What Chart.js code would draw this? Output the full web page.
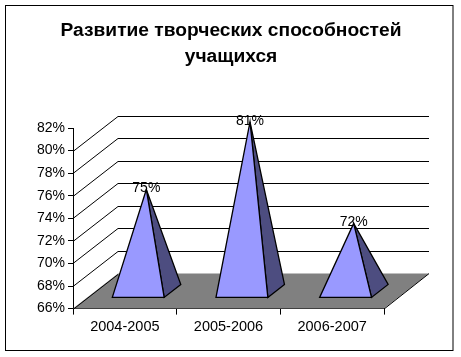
<!DOCTYPE html>
<html><head><meta charset="utf-8">
<style>html,body{margin:0;padding:0;background:#fff}canvas{display:block}</style>
<script src="https://cdn.jsdelivr.net/npm/chart.js@4"></script></head>
<body><canvas id="c" width="461" height="357"></canvas>
<script>
const categories = ['2004-2005','2005-2006','2006-2007'];
const values = [75,81,72];
const yTicks = [66,68,70,72,74,76,78,80,82];
const titleLines = ['Развитие творческих способностей','учащихся'];

const DX = 45, DY = 35, WALL_TOP = 80;
const scene = {
  id:'scene',
  beforeDraw(chart){
    const {ctx} = chart;
    ctx.save();
    ctx.fillStyle='#fff';ctx.fillRect(0,0,chart.width,chart.height);
    ctx.strokeStyle='#000';ctx.lineWidth=1;
    ctx.strokeRect(5.5,5.5,447.5,345);
    ctx.fillStyle='#000';ctx.font='bold 19.2px "Liberation Sans"';ctx.textAlign='center';ctx.textBaseline='middle';
    titleLines.forEach((t,i)=>ctx.fillText(t,231,31+i*26));
    ctx.restore();
  },
  beforeDatasetsDraw(chart){
    const {ctx,scales:{x,y},chartArea:a} = chart;
    const b=a.bottom;
    ctx.save();
    ctx.lineWidth=1;ctx.strokeStyle='#000';
    ctx.fillStyle='#808080';
    ctx.beginPath();ctx.moveTo(a.left,b);ctx.lineTo(a.right,b);ctx.lineTo(a.right+DX,b-DY);ctx.lineTo(a.left+DX,b-DY);ctx.closePath();ctx.fill();
    ctx.beginPath();ctx.moveTo(a.right,b+.5);ctx.lineTo(a.right+DX,b-DY);ctx.stroke();
    yTicks.filter(t=>t<=WALL_TOP).forEach(t=>{
      const py=Math.round(y.getPixelForValue(t));
      ctx.beginPath();ctx.moveTo(a.left,py+.5);ctx.lineTo(a.left+DX,py-DY+.5);
      if(t>yTicks[0]) ctx.lineTo(a.right+DX,py-DY+.5);
      ctx.stroke();
    });
    const band=(a.right-a.left)/categories.length, half=band/4;
    const f=.32,k=.69,mid=.5;
    values.forEach((v,i)=>{
      const cx=x.getPixelForValue(i), y0=y.getPixelForValue(yTicks[0]);
      const L=[cx-half+f*DX-1,y0-f*DY],R=[cx+half+f*DX-1,y0-f*DY],B=[cx+half+k*DX-1,y0-k*DY];
      const A=[cx+mid*DX-1,y.getPixelForValue(v)-mid*DY];
      const tri=(p,q,r,c)=>{ctx.fillStyle=c;ctx.beginPath();ctx.moveTo(...p);ctx.lineTo(...q);ctx.lineTo(...r);ctx.closePath();ctx.fill();ctx.lineWidth=1.3;ctx.strokeStyle='#000';ctx.stroke();};
      ctx.fillStyle='#000';ctx.font='14px "Liberation Sans"';ctx.textAlign='center';ctx.textBaseline='middle';
      ctx.fillText(v+'%',A[0],A[1]-1);
      tri(A,R,B,'#4d4d80');
      tri(A,L,R,'#9999ff');
    });
    ctx.restore();
  }
};
new Chart(document.getElementById('c'),{
  type:'bar',
  data:{labels:categories,datasets:[{data:values,backgroundColor:'rgba(0,0,0,0)',borderWidth:0}]},
  options:{
    responsive:false,animation:false,devicePixelRatio:1,
    layout:{padding:{left:0,right:77,top:128,bottom:17}},
    plugins:{legend:{display:false},tooltip:{enabled:false},title:{display:false}},
    scales:{
      x:{grid:{drawOnChartArea:false,color:'#000',tickLength:6,offset:true},border:{color:'#000'},
        ticks:{color:'#000',font:{family:'"Liberation Sans"',size:14.5},padding:4,maxRotation:0}},
      y:{min:66,max:82,afterBuildTicks(s){s.ticks=yTicks.map(v=>({value:v}));},
        afterFit(s){s.width=73;},
        grid:{drawOnChartArea:false,color:'#000',tickLength:5},border:{color:'#000'},
        ticks:{color:'#000',font:{family:'"Liberation Sans"',size:14},padding:3,callback:v=>v+'%'}}
    }
  },
  plugins:[scene]
});
</script></body></html>
